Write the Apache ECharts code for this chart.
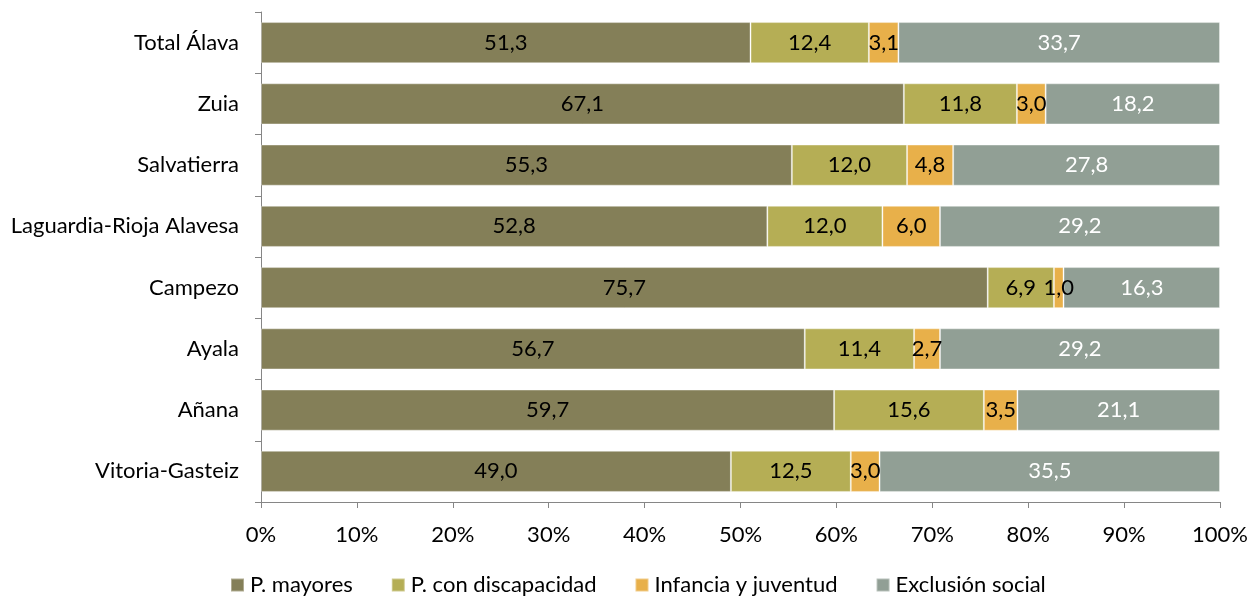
<!DOCTYPE html>
<html>
<head>
<meta charset="utf-8">
<script src="https://cdn.jsdelivr.net/npm/echarts@6/dist/echarts.min.js"></script>
<style>
  html, body { margin: 0; padding: 0; background: #fff; }
  #chart { width: 1258px; height: 598px; }
</style>
</head>
<body>
<div id="chart"></div>
<script>
// Territorial areas, listed top to bottom
const areas = ['Total Álava', 'Zuia', 'Salvatierra', 'Laguardia-Rioja Alavesa', 'Campezo', 'Ayala', 'Añana', 'Vitoria-Gasteiz'];

// Share of each service area (%)
const mayores      = [51.3, 67.1, 55.3, 52.8, 75.7, 56.7, 59.7, 49.0];
const discapacidad = [12.4, 11.8, 12.0, 12.0, 6.9, 11.4, 15.6, 12.5];
const infancia     = [3.1, 3.0, 4.8, 6.0, 1.0, 2.7, 3.5, 3.0];
const exclusion    = [33.7, 18.2, 27.8, 29.2, 16.3, 29.2, 21.1, 35.5];

const seriesNames = ['P. mayores', 'P. con discapacidad', 'Infancia y juventud', 'Exclusión social'];
const seriesData = [mayores, discapacidad, infancia, exclusion];
const colors = ['#847f58', '#b5ae55', '#e8b04a', '#919f95'];
const labelColors = ['#000', '#000', '#000', '#fff'];
const xTicks = [0, 10, 20, 30, 40, 50, 60, 70, 80, 90, 100];

const FONT = 'Lato, "Open Sans", sans-serif';
const FS = 22;

// 100% stacked: each bar is scaled to its row total, labels keep the stated value
const rowTotals = areas.map((_, i) => seriesData.reduce((s, arr) => s + arr[i], 0));

const chart = echarts.init(document.getElementById('chart'), null, { renderer: 'canvas' });
chart.setOption({
  animation: false,
  textStyle: { fontFamily: FONT },
  grid: { left: 261, right: 38, top: 12, bottom: 96, containLabel: false },
  legend: {
    bottom: -3,
    left: 225,
    itemWidth: 13,
    itemHeight: 13,
    itemGap: 38,
    icon: 'rect',
    textStyle: { fontFamily: FONT, fontSize: FS, color: '#000', padding: [0, 0, 0, 1] },
    data: seriesNames
  },
  xAxis: {
    type: 'value',
    min: xTicks[0],
    max: xTicks[xTicks.length - 1],
    interval: 10,
    axisLine: { show: true, lineStyle: { color: '#868686' } },
    axisTick: { show: true, length: 6, lineStyle: { color: '#868686' } },
    splitLine: { show: false },
    axisLabel: { formatter: v => v + '%', fontSize: FS, color: '#000', margin: 22, fontFamily: FONT }
  },
  yAxis: {
    type: 'category',
    inverse: true,
    data: areas,
    axisLine: { show: true, lineStyle: { color: '#868686' } },
    axisTick: { show: true, length: 6, lineStyle: { color: '#868686' } },
    axisLabel: { fontSize: FS, color: '#000', margin: 22, fontFamily: FONT }
  },
  series: seriesNames.map((name, k) => ({
    name,
    type: 'bar',
    stack: 'total',
    barCategoryGap: '33%',
    itemStyle: { color: colors[k], borderColor: 'rgba(255,255,255,0.35)', borderWidth: 1 },
    label: {
      show: true,
      position: 'inside',
      color: labelColors[k],
      fontSize: FS,
      fontFamily: FONT,
      formatter: p => seriesData[k][p.dataIndex].toFixed(1).replace('.', ',')
    },
    data: seriesData[k].map((v, i) => v / rowTotals[i] * 100)
  }))
});
</script>
</body>
</html>
